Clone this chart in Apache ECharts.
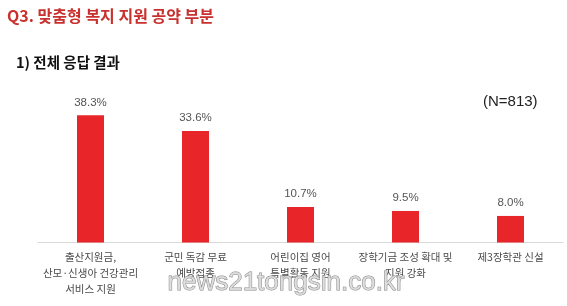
<!DOCTYPE html>
<html>
<head>
<meta charset="utf-8">
<script src="https://cdn.jsdelivr.net/npm/echarts@6/dist/echarts.min.js"></script>
<style>
html,body{margin:0;padding:0;background:#fff;}
#chart{width:567px;height:306px;}
</style>
</head>
<body>
<div id="chart"></div>
<script>
const categories = [
  "출산지원금,\n산모·신생아 건강관리\n서비스 지원",
  "군민 독감 무료\n예방접종",
  "어린이집 영어\n특별활동 지원",
  "장학기금 조성 확대 및\n지원 강화",
  "제3장학관 신설"
];
const values = [38.3, 33.6, 10.7, 9.5, 8.0];
const titleText = "Q3. 맞춤형 복지 지원 공약 부분";
const subtitleText = "1) 전체 응답 결과";
const sampleText = "(N=813)";
const watermarkText = "news21tongsin.co.kr";

const KR = '"Noto Sans CJK KR", "Liberation Sans", sans-serif';
const chart = echarts.init(document.getElementById('chart'), null, {renderer: 'canvas'});
chart.setOption({
  animation: false,
  backgroundColor: '#ffffff',
  grid: {left: 38, right: 4, top: 76.5, height: 166, containLabel: false},
  xAxis: {
    type: 'category',
    data: categories,
    axisLine: {show: true, lineStyle: {color: '#d9d9d9', width: 1}},
    axisTick: {show: false},
    axisLabel: {
      interval: 0,
      margin: 7,
      color: '#4a4a4a',
      fontFamily: KR,
      fontSize: 10.5,
      lineHeight: 16
    }
  },
  yAxis: {
    type: 'value',
    min: 0,
    max: 50,
    show: false,
    splitLine: {show: false}
  },
  series: [{
    type: 'bar',
    data: values,
    barWidth: 27,
    itemStyle: {color: '#e8262a'},
    label: {
      show: true,
      position: 'top',
      distance: 7,
      color: '#555555',
      fontFamily: '"Liberation Sans", Arial, sans-serif',
      fontSize: 11.5,
      formatter: p => p.value.toFixed(1) + '%'
    }
  }],
  graphic: [
    {type: 'text', left: 7, top: 8, style: {text: titleText, fill: '#c8312e', font: 'bold 16px ' + KR}},
    {type: 'text', left: 16, top: 55, style: {text: subtitleText, fill: '#111111', font: 'bold 14.5px ' + KR}},
    {type: 'text', left: 483, top: 94, style: {text: sampleText, fill: '#222222', font: '15px "Liberation Sans", Arial, sans-serif'}},
    {type: 'text', left: 167, top: 269, z: 100, style: {text: watermarkText, fill: 'rgba(220,220,220,0.9)', stroke: '#8a8a8a', lineWidth: 1, font: '26px "Liberation Sans", Arial, sans-serif'}}
  ]
});
</script>
</body>
</html>
